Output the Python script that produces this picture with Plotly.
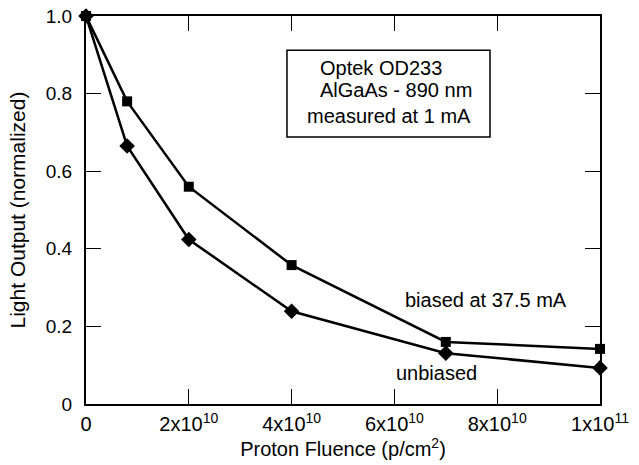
import plotly.graph_objects as go

fluence = [0, 8e9, 2e10, 4e10, 7e10, 1e11]
biased = [1.0, 0.78, 0.56, 0.358, 0.16, 0.142]
unbiased = [1.0, 0.665, 0.424, 0.239, 0.131, 0.093]

x_tickvals = [0, 2e10, 4e10, 6e10, 8e10, 1e11]
x_ticktext = ["0", "2x10<sup>10</sup>", "4x10<sup>10</sup>", "6x10<sup>10</sup>",
              "8x10<sup>10</sup>", "1x10<sup>11</sup>"]
y_tickvals = [0, 0.2, 0.4, 0.6, 0.8, 1.0]
y_ticktext = ["0", "0.2", "0.4", "0.6", "0.8", "1.0"]

FONT = "Liberation Sans, Arial, sans-serif"

fig = go.Figure()
fig.add_trace(go.Scatter(x=fluence, y=biased, mode="lines+markers",
                         line=dict(color="black", width=2.5),
                         marker=dict(symbol="square", size=10, color="black"),
                         cliponaxis=False, name="biased at 37.5 mA"))
fig.add_trace(go.Scatter(x=fluence, y=unbiased, mode="lines+markers",
                         line=dict(color="black", width=2.5),
                         marker=dict(symbol="diamond", size=12, color="black"),
                         cliponaxis=False, name="unbiased"))

axis_common = dict(showline=True, linecolor="black", linewidth=2, mirror="ticks",
                   ticks="inside", ticklen=15, tickwidth=1.3, tickcolor="black",
                   showgrid=False, zeroline=False, automargin=False)

fig.update_xaxes(range=[0, 1e11], tickvals=x_tickvals, ticktext=x_ticktext,
                 tickfont=dict(family=FONT, size=20, color="black"),
                 title=dict(text="Proton Fluence (p/cm<sup>2</sup>)",
                            font=dict(family=FONT, size=20, color="black"), standoff=4),
                 ticklabelstandoff=1,
                 **axis_common)
fig.update_yaxes(range=[0, 1.0], tickvals=y_tickvals, ticktext=y_ticktext,
                 tickfont=dict(family=FONT, size=19, color="black"),
                 title=dict(text="Light Output (normalized)",
                            font=dict(family=FONT, size=21, color="black"), standoff=14),
                 ticklabelstandoff=8,
                 **axis_common)

fig.add_shape(type="rect", xref="paper", yref="paper", x0=0.391, x1=0.786, y0=0.688, y1=0.912,
              line=dict(color="black", width=1.5), fillcolor="rgba(0,0,0,0)")

ann_font = dict(family=FONT, size=20, color="black")
box_lines = [("Optek OD233", 0.574, 0.866),
             ("AlGaAs - 890 nm", 0.603, 0.809),
             ("measured at 1 mA", 0.589, 0.742)]
for txt, ax, ay in box_lines:
    fig.add_annotation(xref="paper", yref="paper", x=ax, y=ay, text=txt,
                       xanchor="center", yanchor="middle", showarrow=False, font=ann_font)
fig.add_annotation(x=7.78e10, y=0.268, text="biased at 37.5 mA", showarrow=False,
                   xanchor="center", yanchor="middle", font=ann_font)
fig.add_annotation(x=6.81e10, y=0.08, text="unbiased", showarrow=False,
                   xanchor="center", yanchor="middle", font=ann_font)

fig.update_layout(width=639, height=465, margin=dict(l=86, r=39, t=16, b=61),
                  plot_bgcolor="white", paper_bgcolor="white", showlegend=False,
                  font=dict(family=FONT, color="black"))

fig.write_html("out.html", config={"displayModeBar": False},
               post_script="document.body.style.margin='0';document.body.style.padding='0';")
